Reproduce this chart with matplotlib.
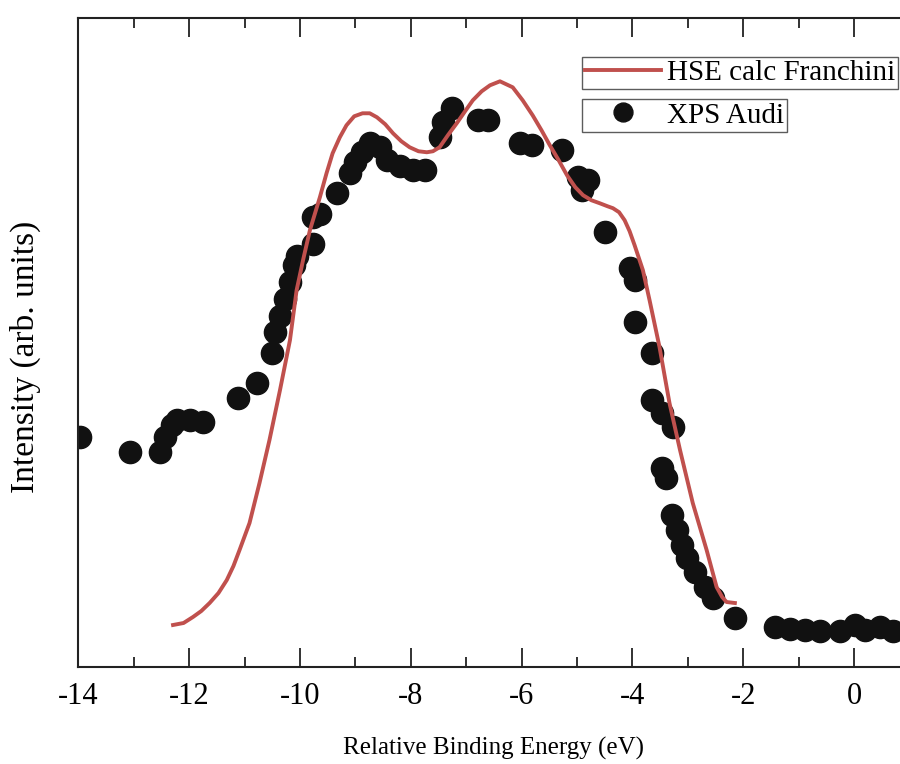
import matplotlib
matplotlib.use("Agg")
import matplotlib.pyplot as plt
from matplotlib.ticker import MultipleLocator

plt.rcParams['font.family'] = ['Liberation Serif', 'DejaVu Serif']
plt.rcParams['axes.unicode_minus'] = False

# XPS Audi (binding energy in eV, intensity in arb. units)
xps_energy = [-13.97, -13.07, -12.53, -12.44, -12.31, -12.21, -11.99, -11.75,
              -11.12, -10.78, -10.51, -10.45, -10.36, -10.27, -10.18, -10.11,
              -10.06, -9.77, -9.77, -9.64, -9.34, -9.10, -9.01, -8.88, -8.74,
              -8.56, -8.42, -8.20, -7.96, -7.75, -7.48, -7.42, -7.26, -6.79,
              -6.61, -6.03, -5.82, -5.27, -4.98, -4.91, -4.80, -4.50, -4.05,
              -3.96, -3.96, -3.65, -3.65, -3.47, -3.27, -3.47, -3.40, -3.29,
              -3.20, -3.11, -3.02, -2.87, -2.69, -2.55, -2.15, -1.43, -1.16,
              -0.89, -0.62, -0.25, 0.01, 0.20, 0.47, 0.70]
xps_intensity = [2.30, 2.15, 2.15, 2.30, 2.42, 2.47, 2.47, 2.45,
                 2.69, 2.84, 3.14, 3.35, 3.51, 3.68, 3.85, 4.02,
                 4.11, 4.23, 4.50, 4.53, 4.74, 4.94, 5.05, 5.15, 5.24,
                 5.20, 5.07, 5.01, 4.97, 4.97, 5.30, 5.45, 5.59, 5.47,
                 5.47, 5.24, 5.22, 5.17, 4.90, 4.77, 4.87, 4.35, 3.99,
                 3.87, 3.45, 3.14, 2.67, 2.54, 2.40, 1.99, 1.89, 1.52,
                 1.37, 1.22, 1.09, 0.95, 0.80, 0.69, 0.49, 0.40, 0.38,
                 0.37, 0.36, 0.36, 0.42, 0.37, 0.40, 0.36]

# HSE calc Franchini
hse_energy = [-12.29, -12.10, -11.93, -11.78, -11.63, -11.47, -11.32, -11.20,
              -11.09, -10.91, -10.73, -10.55, -10.36, -10.18, -10.06, -9.94,
              -9.82, -9.64, -9.52, -9.41, -9.28, -9.16, -9.02, -8.87, -8.74,
              -8.61, -8.46, -8.32, -8.17, -8.02, -7.86, -7.71, -7.60, -7.48,
              -7.33, -7.17, -7.02, -6.88, -6.72, -6.57, -6.39, -6.16, -5.98,
              -5.80, -5.64, -5.49, -5.33, -5.18, -5.03, -4.89, -4.74, -4.59,
              -4.45, -4.35, -4.24, -4.14, -4.05, -3.96, -3.81, -3.69, -3.51,
              -3.33, -3.14, -2.91, -2.66, -2.48, -2.38, -2.30, -2.15]
hse_intensity = [0.42, 0.44, 0.50, 0.56, 0.64, 0.74, 0.87, 1.01,
                 1.17, 1.44, 1.84, 2.27, 2.77, 3.27, 3.77, 4.08,
                 4.37, 4.70, 4.94, 5.14, 5.30, 5.42, 5.51, 5.54, 5.54,
                 5.50, 5.43, 5.34, 5.26, 5.20, 5.16, 5.15, 5.16, 5.20,
                 5.32, 5.44, 5.56, 5.67, 5.76, 5.82, 5.86, 5.80, 5.67,
                 5.52, 5.37, 5.22, 5.07, 4.92, 4.80, 4.72, 4.67, 4.64,
                 4.61, 4.59, 4.55, 4.47, 4.36, 4.22, 3.97, 3.67, 3.20,
                 2.64, 2.17, 1.64, 1.17, 0.80, 0.70, 0.65, 0.64]

fig = plt.figure(figsize=(9, 7.64), dpi=100)
ax = fig.add_axes([0.087, 0.127, 0.913, 0.849])

line, = ax.plot(hse_energy, hse_intensity, color='#c0504d', lw=2.8,
                label='HSE calc Franchini', zorder=3, solid_joinstyle='round')
dots, = ax.plot(xps_energy, xps_intensity, 'o', color='#111111', ms=16,
                mec='#111111', label='XPS Audi', zorder=2)

ax.set_xlim(-14, 0.83)
ax.set_ylim(0, 6.49)
ax.xaxis.set_major_locator(MultipleLocator(2))
ax.xaxis.set_minor_locator(MultipleLocator(1))
ax.set_yticks([])
ax.tick_params(axis='x', which='both', direction='in', top=True,
               labelsize=22, pad=11, width=1.3, color='#222222')
ax.tick_params(axis='x', which='major', length=14)
ax.tick_params(axis='x', which='minor', length=7)
for s in ['left', 'bottom', 'top']:
    ax.spines[s].set_linewidth(1.5)
    ax.spines[s].set_color('#222222')
ax.spines['right'].set_visible(False)

# axis titles placed in figure coordinates
fig.text(0.548, 0.021, 'Relative Binding Energy (eV)', fontsize=18,
         ha='center', va='center')
fig.text(0.028, 0.533, 'Intensity (arb. units)', fontsize=24,
         rotation=90, ha='center', va='center')

leg1 = fig.legend(handles=[line], loc='upper left',
                  bbox_to_anchor=(0.647, 0.926), fontsize=21,
                  frameon=True, fancybox=False, edgecolor='#333333',
                  handlelength=2.6, borderpad=0.1, borderaxespad=0,
                  handletextpad=0.2)
leg1.get_frame().set_linewidth(1.0)
leg2 = fig.legend(handles=[dots], loc='upper left',
                  bbox_to_anchor=(0.647, 0.870), fontsize=21,
                  frameon=True, fancybox=False, edgecolor='#333333',
                  handlelength=2.6, borderpad=0.1, borderaxespad=0,
                  handletextpad=0.2, markerscale=0.85)
leg2.get_frame().set_linewidth(1.0)

fig.savefig('out.png', dpi=100)
